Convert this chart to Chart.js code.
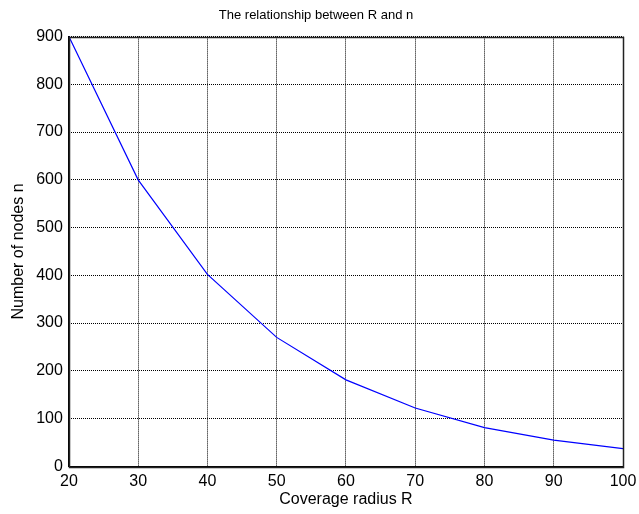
<!DOCTYPE html>
<html>
<head>
<meta charset="utf-8">
<script src="https://cdn.jsdelivr.net/npm/chart.js@4/dist/chart.umd.min.js"></script>
<style>
html,body{margin:0;padding:0;background:#fff;}
#wrap{width:639px;height:514px;position:relative;}
</style>
</head>
<body>
<div id="wrap"><canvas id="c" width="639" height="514"></canvas></div>
<script>
const radiusR = [20, 30, 40, 50, 60, 70, 80, 90, 100];
const nodesN = [900, 600, 402, 270, 181, 122, 81, 55, 37];
const xTicks = [20, 30, 40, 50, 60, 70, 80, 90, 100];
const yTicks = [0, 100, 200, 300, 400, 500, 600, 700, 800, 900];

const FONT = "'Liberation Sans', Arial, sans-serif";

const boxPlugin = {
  id: 'box',
  afterDraw(chart) {
    const a = chart.chartArea, ctx = chart.ctx;
    ctx.save();
    ctx.strokeStyle = '#222';
    ctx.lineWidth = 1.5;
    ctx.setLineDash([]);
    ctx.strokeRect(Math.round(a.left) + 0.5, Math.round(a.top) + 0.5,
                   Math.round(a.right - a.left), Math.round(a.bottom - a.top));
    ctx.restore();
  }
};

new Chart(document.getElementById('c'), {
  type: 'line',
  data: {
    datasets: [{
      data: radiusR.map((r, i) => ({x: r, y: nodesN[i]})),
      borderColor: '#0000ff',
      borderWidth: 1.2,
      pointRadius: 0,
      fill: false,
      tension: 0
    }]
  },
  options: {
    responsive: false,
    animation: false,
    devicePixelRatio: 1,
    layout: { padding: { left: 9, right: 16, top: 0, bottom: 11.3 } },
    plugins: {
      legend: { display: false },
      tooltip: { enabled: false },
      title: {
        display: true,
        text: 'The relationship between R and n',
        color: '#000',
        font: { family: FONT, size: 13, weight: 'normal' },
        padding: { top: 8, bottom: 13 }
      }
    },
    scales: {
      x: {
        type: 'linear',
        min: 20, max: 100,
        afterBuildTicks(s) { s.ticks = xTicks.map(v => ({value: v})); },
        afterFit(s) { s.paddingRight = 0; },
        ticks: { color: '#000', font: { family: FONT, size: 16, lineHeight: 1 }, padding: 7, maxRotation: 0 },
        grid: { color: '#000', lineWidth: 1, drawTicks: false },
        border: { display: true, color: '#000', dash: [1, 1] },
        title: {
          display: true, text: 'Coverage radius R', color: '#000',
          font: { family: FONT, size: 16, lineHeight: 0.4 }, padding: { top: 0, bottom: 0 }
        }
      },
      y: {
        min: 0, max: 900,
        afterBuildTicks(s) { s.ticks = yTicks.map(v => ({value: v})); },
        ticks: { color: '#000', font: { family: FONT, size: 16 }, padding: 6 },
        grid: { color: '#000', lineWidth: 1, drawTicks: false },
        border: { display: true, color: '#000', dash: [1, 1] },
        title: {
          display: true, text: 'Number of nodes n', color: '#000',
          font: { family: FONT, size: 16 }, padding: { top: 0, bottom: 2 }
        }
      }
    }
  },
  plugins: [boxPlugin]
});
</script>
</body>
</html>
